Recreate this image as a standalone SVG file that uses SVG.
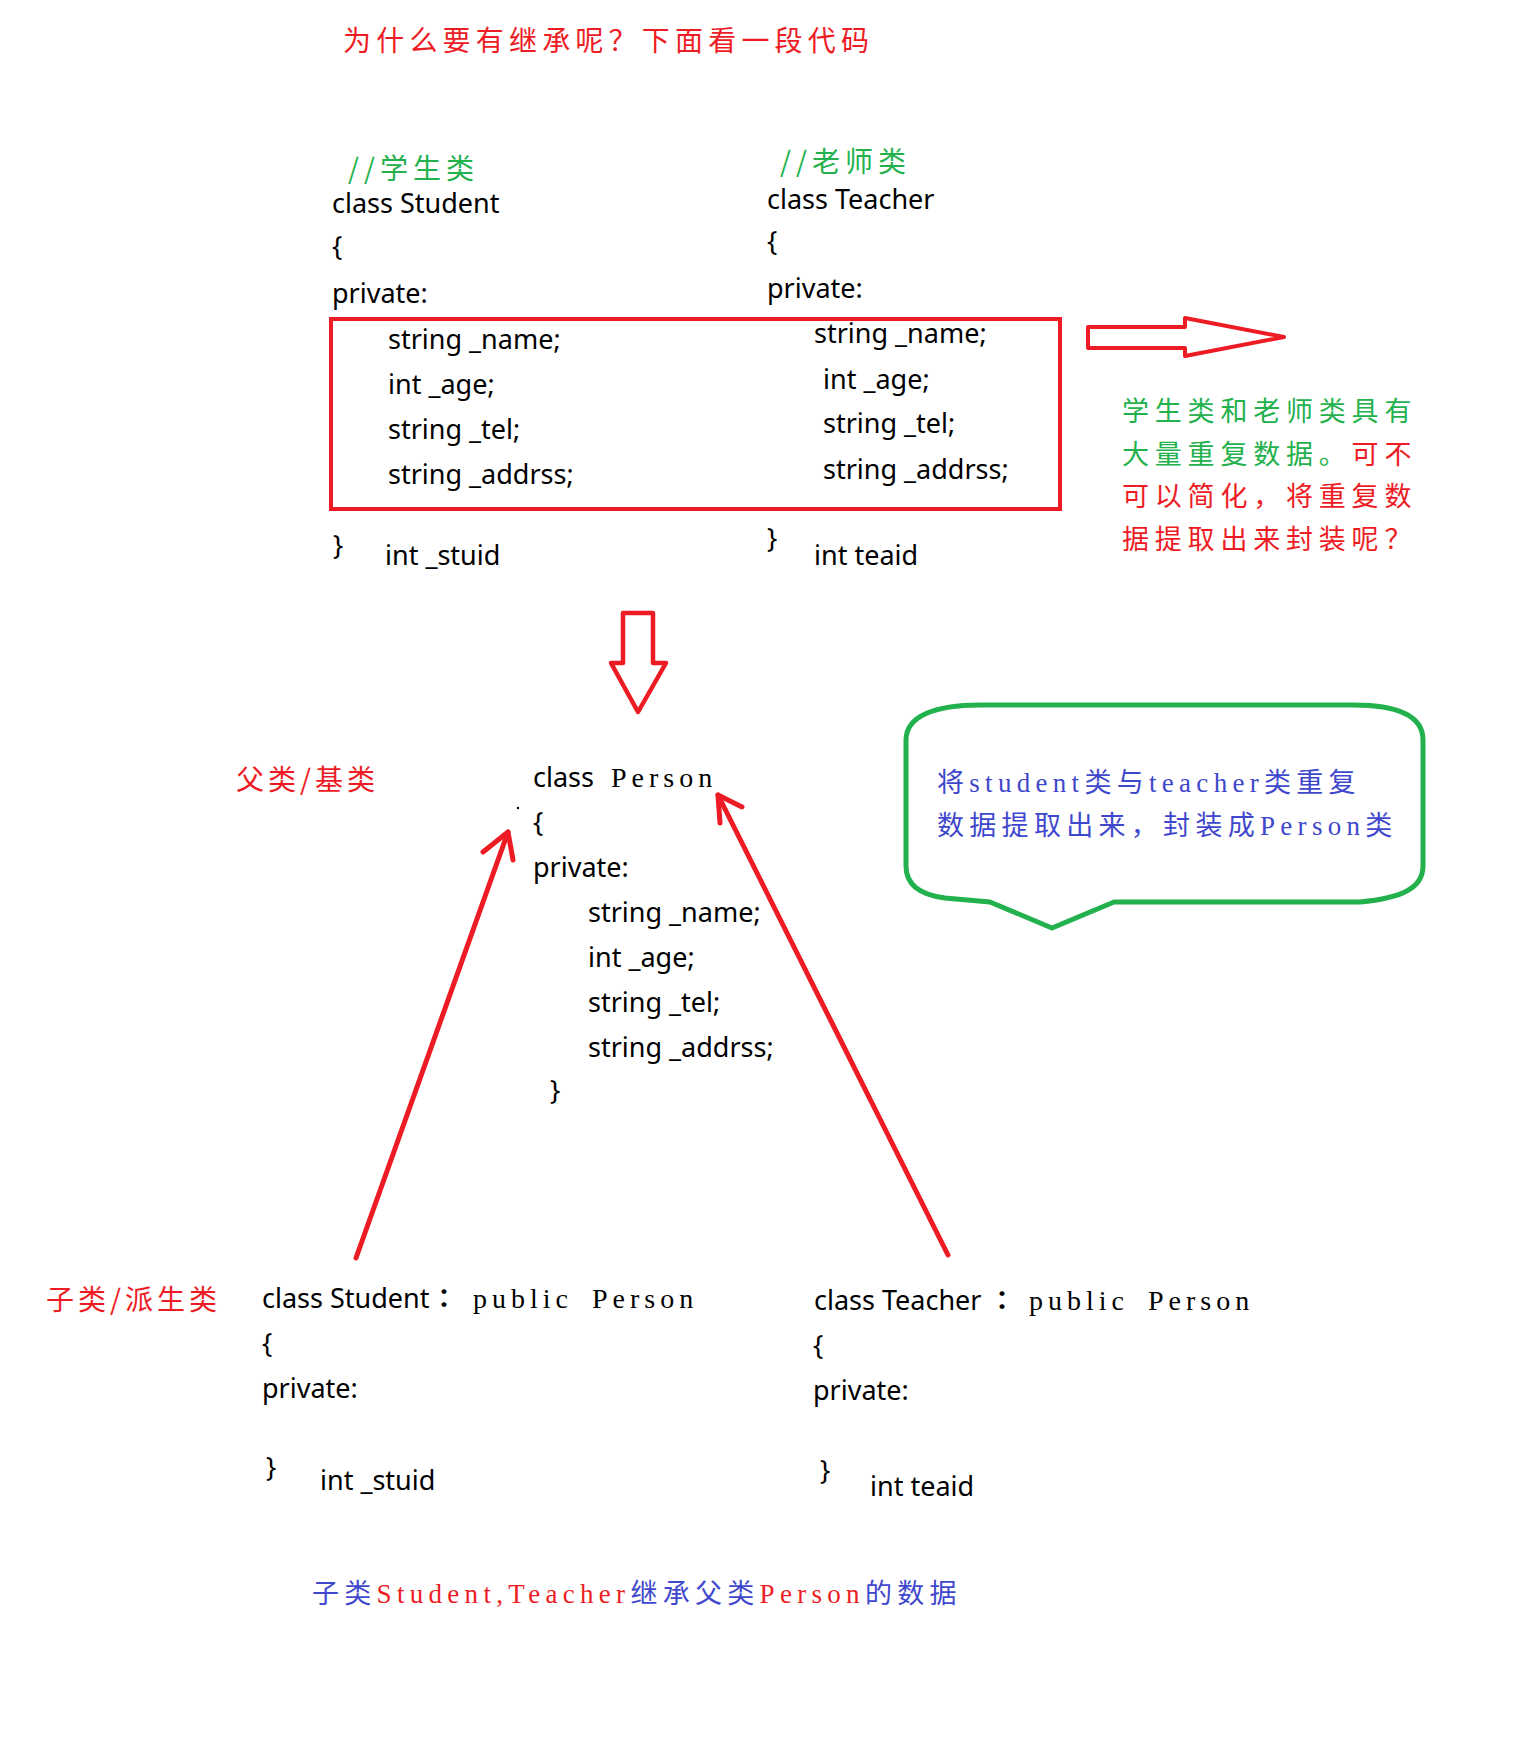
<svg xmlns="http://www.w3.org/2000/svg" width="1531" height="1754" viewBox="0 0 1531 1754">
<style>
.code{font-family:"Noto Sans","DejaVu Sans",sans-serif;font-size:27px;fill:#000}
.ser{font-family:"Liberation Serif","Noto Sans CJK SC",serif;font-size:27px;letter-spacing:5.3px}
.kw{font-family:"Liberation Serif",serif;font-size:28px;letter-spacing:5px;fill:#000}
.cjk{font-family:"Noto Sans CJK SC",sans-serif}
.red{fill:#ED1C24}
.grn{fill:#22B14C}
.blu{fill:#3F48CC}
.rline{fill:none;stroke:#ED1C24;stroke-linecap:round;stroke-linejoin:round}
</style>
<rect width="1531" height="1754" fill="#fff"/>

<g id="title">
<text class="cjk red" x="343" y="51" font-size="28" letter-spacing="5.2">为什么要有继承呢？下面看一段代码</text>
</g>

<g id="student-class">
<text class="cjk grn" x="348" y="179" font-size="28" letter-spacing="5">//学生类</text>
<text class="code" x="332" y="213">class Student</text>
<text class="code" x="332" y="256">{</text>
<text class="code" x="332" y="303">private:</text>
<text class="code" x="388" y="349">string _name;</text>
<text class="code" x="388" y="394">int _age;</text>
<text class="code" x="388" y="439">string _tel;</text>
<text class="code" x="388" y="484">string _addrss;</text>
<text class="code" x="333" y="555">}</text>
<text class="code" x="385" y="565">int _stuid</text>
</g>

<g id="teacher-class">
<text class="cjk grn" x="780" y="172" font-size="28" letter-spacing="5">//老师类</text>
<text class="code" x="767" y="209">class Teacher</text>
<text class="code" x="767" y="251">{</text>
<text class="code" x="767" y="298">private:</text>
<text class="code" x="814" y="343">string _name;</text>
<text class="code" x="823" y="389">int _age;</text>
<text class="code" x="823" y="433">string _tel;</text>
<text class="code" x="823" y="479">string _addrss;</text>
<text class="code" x="767" y="548">}</text>
<text class="code" x="814" y="565">int teaid</text>
</g>

<g id="duplicate-box">
<rect x="331" y="319" width="729" height="190" fill="none" stroke="#ED1C24" stroke-width="4"/>
</g>

<g id="note-right" class="cjk" font-size="27" letter-spacing="5.8">
<text class="grn" x="1122" y="421">学生类和老师类具有</text>
<text x="1122" y="464"><tspan class="grn">大量重复数据。</tspan><tspan class="red">可不</tspan></text>
<text class="red" x="1122" y="506">可以简化，将重复数</text>
<text class="red" x="1122" y="549">据提取出来封装呢？</text>
</g>

<g id="label-parent">
<text class="cjk red" x="236" y="790" font-size="28" letter-spacing="4">父类/基类</text>
</g>

<g id="person-class">
<text class="code" x="533" y="787">class</text>
<text class="kw" x="611" y="787">Person</text>
<circle cx="518" cy="808" r="1.2" fill="#000"/>
<text class="code" x="533" y="832">{</text>
<text class="code" x="533" y="877">private:</text>
<text class="code" x="588" y="922">string _name;</text>
<text class="code" x="588" y="967">int _age;</text>
<text class="code" x="588" y="1012">string _tel;</text>
<text class="code" x="588" y="1057">string _addrss;</text>
<text class="code" x="550" y="1100">}</text>
</g>

<g id="bubble">
<path d="M 980 705 L 1353 705 C 1397 705 1423 716 1423 740 L 1423 866 C 1423 888 1402 898 1360 902 L 1114 902 L 1052 928 L 990 902 L 945 898 C 921 895 906 885 906 866 L 906 740 C 906 716 935 705 980 705 Z" fill="none" stroke="#22B14C" stroke-width="5" stroke-linejoin="round"/>
<text class="ser blu" x="937" y="792">将student类与teacher类重复</text>
<text class="ser blu" x="937" y="835">数据提取出来，封装成Person类</text>
</g>

<g id="label-child">
<text class="cjk red" x="46" y="1310" font-size="28" letter-spacing="4">子类/派生类</text>
</g>

<g id="student-derived">
<text class="code" x="262" y="1308">class Student</text>
<text x="444" y="1308" text-anchor="middle" font-family="Noto Sans CJK TC, sans-serif" font-size="26" font-weight="bold">：</text>
<text class="kw" x="473" y="1308" letter-spacing="5.8">public</text>
<text class="kw" x="592" y="1308">Person</text>
<text class="code" x="262" y="1353">{</text>
<text class="code" x="262" y="1398">private:</text>
<text class="code" x="266" y="1477">}</text>
<text class="code" x="320" y="1490">int _stuid</text>
</g>

<g id="teacher-derived">
<text class="code" x="814" y="1310">class Teacher</text>
<text x="1002" y="1310" text-anchor="middle" font-family="Noto Sans CJK TC, sans-serif" font-size="26" font-weight="bold">：</text>
<text class="kw" x="1029" y="1310" letter-spacing="5.8">public</text>
<text class="kw" x="1148" y="1310">Person</text>
<text class="code" x="813" y="1355">{</text>
<text class="code" x="813" y="1400">private:</text>
<text class="code" x="820" y="1480">}</text>
<text class="code" x="870" y="1496">int teaid</text>
</g>

<g id="caption">
<text class="ser" x="312" y="1603"><tspan class="blu">子类</tspan><tspan class="red">Student,Teacher</tspan><tspan class="blu">继承父类</tspan><tspan class="red">Person</tspan><tspan class="blu">的数据</tspan></text>
</g>

<g id="connectors">
<polygon class="rline" stroke-width="4" points="1088,327 1185,327 1185,318 1284,337 1185,356 1185,348 1088,348"/>
<polygon class="rline" stroke-width="4.5" points="623,613 653,613 653,663 666,663 638,712 611,663 623,663"/>
<line class="rline" stroke-width="5" x1="356" y1="1258" x2="508" y2="832"/>
<polyline class="rline" stroke-width="5" points="483,852 508,832 513,860"/>
<line class="rline" stroke-width="5" x1="948" y1="1255" x2="718" y2="795"/>
<polyline class="rline" stroke-width="5" points="742,807 718,795 720,823"/>
</g>
</svg>
